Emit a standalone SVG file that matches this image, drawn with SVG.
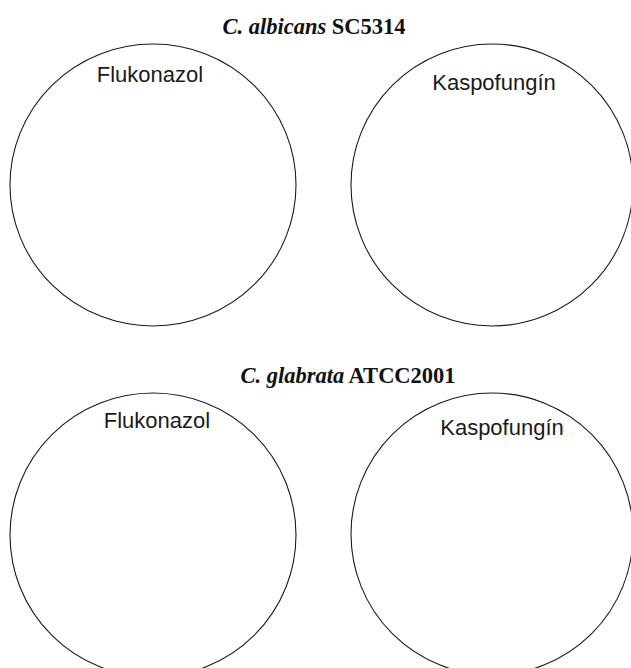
<svg xmlns="http://www.w3.org/2000/svg" width="631" height="668" viewBox="0 0 631 668">
<style>
.disc{fill:none;stroke:#1a1a1a;stroke-width:1.1}
.lbl{font-family:"Liberation Sans",Arial,sans-serif;font-size:22px;fill:#1a1a1a;text-anchor:middle}
.ttl{font-family:"Liberation Serif","Times New Roman",serif;font-size:22.5px;font-weight:bold;fill:#111;text-anchor:middle}
</style>
<rect width="631" height="668" fill="#fff"/>
<g id="title1"><text class="ttl" x="314" y="34"><tspan font-style="italic">C. albicans</tspan> SC5314</text></g>
<g id="title2"><text class="ttl" x="348" y="383"><tspan font-style="italic">C. glabrata</tspan> ATCC2001</text></g>
<g id="plate1">
<ellipse class="disc" cx="153" cy="185" rx="143" ry="141"/>
<text class="lbl" x="150" y="82">Flukonazol</text>
</g>
<g id="plate2">
<ellipse class="disc" cx="492" cy="185" rx="141" ry="141"/>
<text class="lbl" x="494" y="90">Kaspofungín</text>
</g>
<g id="plate3">
<ellipse class="disc" cx="153" cy="535" rx="143" ry="142"/>
<text class="lbl" x="157" y="428">Flukonazol</text>
</g>
<g id="plate4">
<ellipse class="disc" cx="492" cy="534" rx="141" ry="141"/>
<text class="lbl" x="502" y="435">Kaspofungín</text>
</g>
<g id="connectors"/>
</svg>
